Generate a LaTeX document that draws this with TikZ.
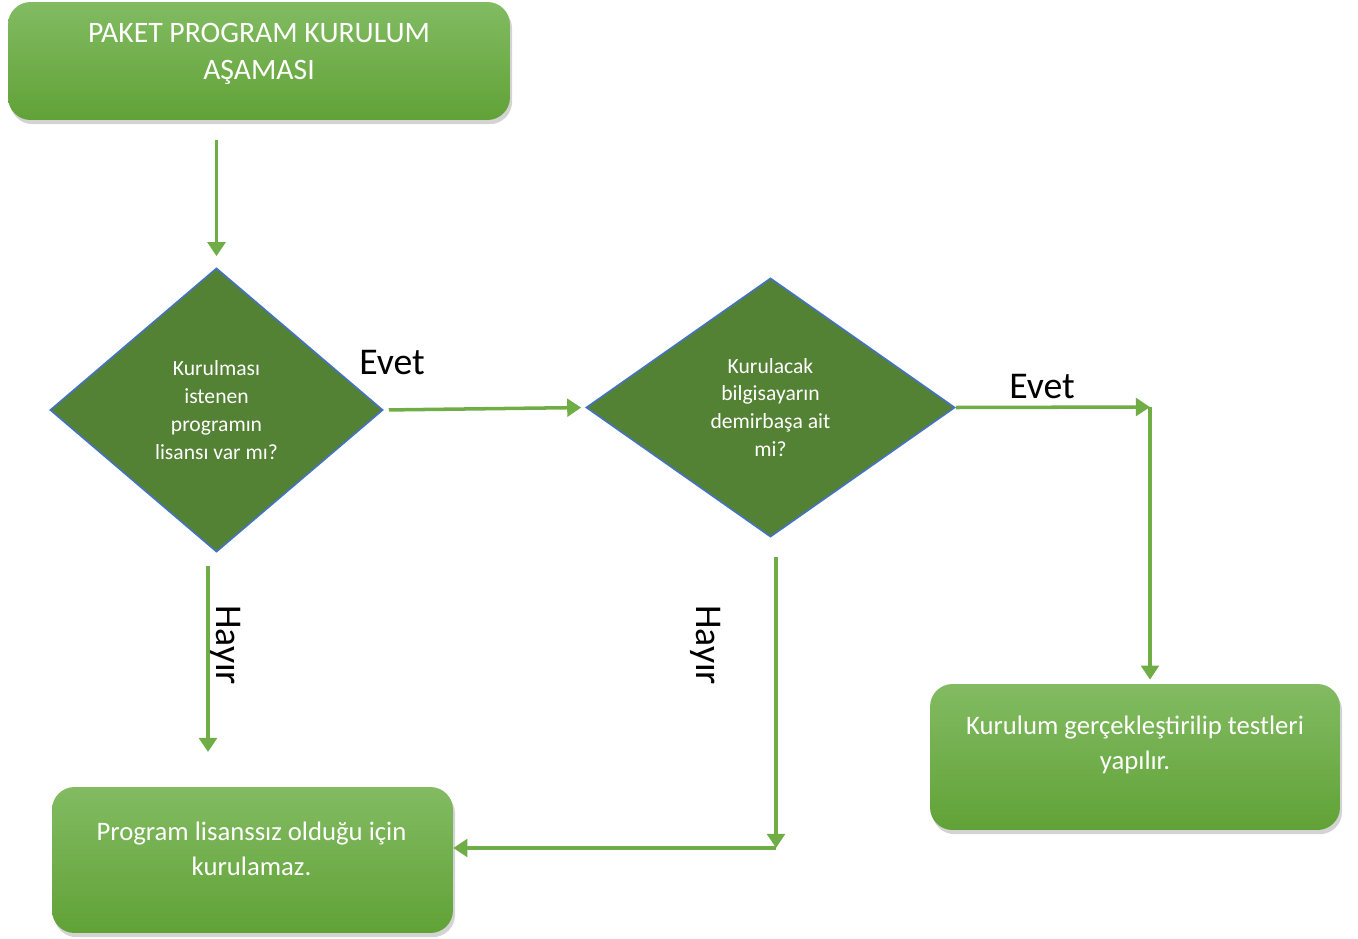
\documentclass[tikz,border=0pt]{standalone}
\usepackage{fontspec}
\setmainfont{Carlito}
\usetikzlibrary{shapes.geometric, arrows.meta, shadows, calc}
\definecolor{boxtop}{RGB}{130,187,98}
\definecolor{boxbottom}{RGB}{97,162,55}
\definecolor{decisionfill}{RGB}{84,130,53}
\definecolor{decisionline}{RGB}{68,114,196}
\definecolor{flowgreen}{RGB}{112,173,71}
\tikzstyle{stage} = [
    rectangle, rounded corners=0.45cm, draw=none,
    top color=boxtop, bottom color=boxbottom,
    drop shadow={shadow xshift=1.2pt, shadow yshift=-2.4pt, opacity=0.35} % soft shadow
]
\tikzstyle{stagetext} = [
    text=white, align=center
]
\tikzstyle{decision} = [
    diamond, fill=decisionfill, draw=decisionline, line width=0.9pt,
    inner sep=0pt, text=white, align=center,
    font=\fontsize{12.3}{15.9}\selectfont
]
\tikzstyle{flow} = [
    draw=flowgreen, line width=2pt, -{Triangle[length=8pt, width=10pt]}
]
\tikzstyle{answer} = [font=\fontsize{21.5}{24}\selectfont]

\begin{document}
\begin{tikzpicture}[x=0.02cm, y=-0.02cm]
        \useasboundingbox (0,0) rectangle (1358,939);

        % Boxes
        \node[stage, minimum width=10.04cm, minimum height=2.36cm] (kurulum) at (259,61) {};
        \node[stagetext, font=\fontsize{16.9}{21}\selectfont] (kurulumtext) at ($(kurulum)+(0,-7.5)$) {PAKET PROGRAM KURULUM\\AŞAMASI};

        \node[stage, minimum width=8.02cm, minimum height=2.92cm] (lisanssiz) at (252.5,860) {};
        \node[stagetext, font=\fontsize{15.2}{20}\selectfont] (lisanssiztext) at ($(lisanssiz)+(-1,-11.5)$) {Program lisanssız olduğu için\\kurulamaz.};

        \node[stage, minimum width=8.2cm, minimum height=2.92cm] (test) at (1135,757) {};
        \node[stagetext, font=\fontsize{15.2}{20}\selectfont] (testtext) at ($(test)+(0,-12)$) {Kurulum gerçekleştirilip testleri\\yapılır.};

        % Decisions
        \node[decision, minimum width=6.66cm, minimum height=5.68cm] (lisans) at (216.5,410) {Kurulması\\istenen\\programın\\lisansı var mı?};
        \node[decision, minimum width=7.38cm, minimum height=5.18cm] (demirbas) at (770.5,407.5) {Kurulacak\\bilgisayarın\\demirbaşa ait\\mi?};

        % Corners of the connectors
        \coordinate (evetkose) at (1150,407);
        \coordinate (hayirkose) at (776,848);
        \coordinate (hayiruc) at (208,752);

        % Connectors
        \draw[flow, shorten <=0.4cm, shorten >=0.22cm] (kurulum.south -| lisans.north) -- (lisans.north);
        \draw[flow, shorten <=0.1cm, shorten >=0.08cm] (lisans.east) -- (demirbas.west);
        \draw[flow] (demirbas.east) -- (evetkose);
        \draw[flow, shorten >=0.08cm] (evetkose) -- (evetkose |- test.north);
        \draw[flow, shorten <=0.26cm] (hayiruc |- lisans.south) -- (hayiruc);
        \draw[flow, shorten <=0.38cm] (hayirkose |- demirbas.south) -- (hayirkose);
        \draw[flow] (hayirkose) -- (hayirkose -| lisanssiz.east);

        % Answers
        \node[answer] (evet1) at (392,363) {Evet};
        \node[answer] (evet2) at (1042,387) {Evet};
        \node[answer, rotate=-90] (hayir1) at (226,645) {Hayır};
        \node[answer, rotate=-90] (hayir2) at (706,645) {Hayır};

    \end{tikzpicture}
\end{document}
